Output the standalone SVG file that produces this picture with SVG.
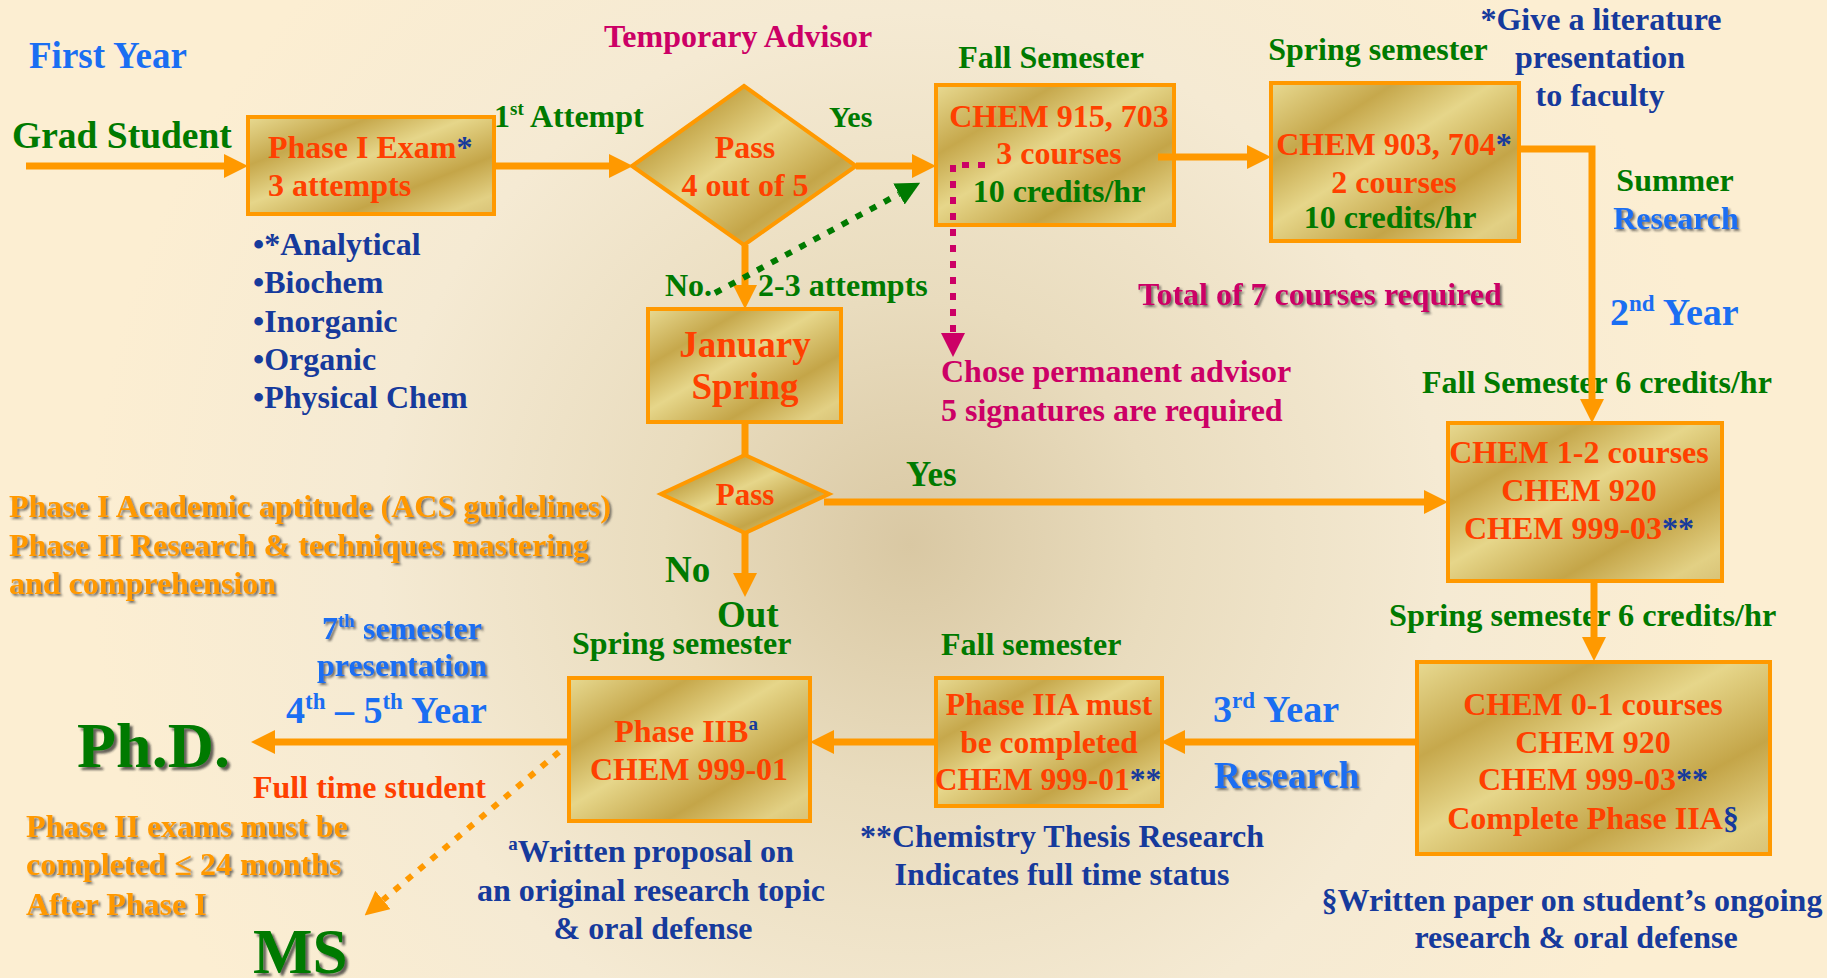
<svg xmlns="http://www.w3.org/2000/svg" width="1827" height="978" viewBox="0 0 1827 978">
<defs>
<radialGradient id="bg" gradientUnits="userSpaceOnUse" cx="910" cy="545" r="820">
<stop offset="0" stop-color="#D9C8A3"/>
<stop offset="0.3" stop-color="#E9DCBE"/>
<stop offset="0.65" stop-color="#F5EAD3"/>
<stop offset="1" stop-color="#FCEED2"/>
</radialGradient>
<linearGradient id="gold" x1="0" y1="0" x2="1" y2="1">
<stop offset="0" stop-color="#E8DA92"/>
<stop offset="0.25" stop-color="#C6A84C"/>
<stop offset="0.45" stop-color="#E6D68A"/>
<stop offset="0.7" stop-color="#C4A548"/>
<stop offset="0.9" stop-color="#E2D084"/>
<stop offset="1" stop-color="#D8C276"/>
</linearGradient>
<filter id="sh" x="-10%" y="-30%" width="120%" height="160%">
<feDropShadow dx="2" dy="2" stdDeviation="0.8" flood-color="#333" flood-opacity="0.65"/>
</filter>
<filter id="shb" x="-10%" y="-30%" width="120%" height="160%">
<feDropShadow dx="3" dy="3" stdDeviation="1" flood-color="#222" flood-opacity="0.7"/>
</filter>
<marker id="ah" markerUnits="userSpaceOnUse" markerWidth="24" markerHeight="24" refX="0" refY="12" orient="auto">
<path d="M0,0 L24,12 L0,24 z" fill="#FF9900"/>
</marker>
<marker id="ahg" markerUnits="userSpaceOnUse" markerWidth="24" markerHeight="24" refX="0" refY="12" orient="auto">
<path d="M0,0 L24,12 L0,24 z" fill="#007A00"/>
</marker>
<marker id="ahm" markerUnits="userSpaceOnUse" markerWidth="24" markerHeight="24" refX="0" refY="12" orient="auto">
<path d="M0,0 L24,12 L0,24 z" fill="#CC0066"/>
</marker>
</defs>
<style>
text { font-family: 'Liberation Serif', 'Times New Roman', serif; font-weight: bold; font-size: 32px; }
.red { fill: #FF4000; }
.grn { fill: #007A00; }
.nav { fill: #163A9C; }
.blu { fill: #1A6EF2; }
.mag { fill: #CC0066; }
.org { fill: #FF9900; }
.mid { text-anchor: middle; }
.box { fill: url(#gold); stroke: #FF9900; stroke-width: 4; }
.conn { stroke: #FF9900; stroke-width: 7; fill: none; }
.big { font-size: 38px; }
</style>
<rect x="0" y="0" width="1827" height="978" fill="url(#bg)"/>

<!-- free labels -->
<g id="labels">
<text x="29" y="68" class="blu" style="font-size:37px">First Year</text>
<text x="12" y="148" class="grn" style="font-size:37.5px">Grad Student</text>
<text x="494" y="127" class="grn" style="font-size:32px">1<tspan font-size="19" dy="-12">st</tspan><tspan dy="12"> Attempt</tspan></text>
<text x="738" y="47" class="mag mid">Temporary Advisor</text>
<text x="829" y="127" class="grn" style="font-size:30px">Yes</text>
<text x="1051" y="68" class="grn mid">Fall Semester</text>
<text x="1378" y="60" class="grn mid">Spring semester</text>
<text x="1601" y="30" class="nav mid">*Give a literature</text>
<text x="1600" y="68" class="nav mid">presentation</text>
<text x="1600" y="106" class="nav mid">to faculty</text>
<text x="1675" y="191" class="grn mid">Summer</text>
<text x="1676" y="229" class="blu mid" filter="url(#sh)">Research</text>
<text x="1610" y="325" class="blu big">2<tspan font-size="23" dy="-14">nd</tspan><tspan dy="14"> Year</tspan></text>
<text x="1138" y="305" class="mag" filter="url(#sh)">Total of 7 courses required</text>
<text x="665" y="296" class="grn">No.</text>
<text x="758" y="296" class="grn">2-3 attempts</text>
<text x="941" y="382" class="mag">Chose permanent advisor</text>
<text x="941" y="421" class="mag">5 signatures are required</text>
<text x="253" y="255" class="nav">•*Analytical</text>
<text x="253" y="293" class="nav">•Biochem</text>
<text x="253" y="332" class="nav">•Inorganic</text>
<text x="253" y="370" class="nav">•Organic</text>
<text x="253" y="408" class="nav">•Physical Chem</text>
<g class="org" filter="url(#sh)">
<text x="9" y="517" class="org">Phase I Academic aptitude (ACS guidelines)</text>
<text x="9" y="556" class="org">Phase II Research &amp; techniques mastering</text>
<text x="9" y="594" class="org">and comprehension</text>
</g>
<text x="906" y="486" class="grn" style="font-size:35px">Yes</text>
<text x="665" y="582" class="grn" style="font-size:37px">No</text>
<text x="1422" y="393" class="grn" style="font-size:32px">Fall Semester 6 credits/hr</text>
<text x="1389" y="626" class="grn" style="font-size:32.3px">Spring semester 6 credits/hr</text>
<text x="572" y="654" class="grn">Spring semester</text>
<text x="941" y="655" class="grn">Fall semester</text>
<text x="1213" y="722" class="blu big">3<tspan font-size="23" dy="-14">rd</tspan><tspan dy="14"> Year</tspan></text>
<text x="1214" y="788" class="blu" style="font-size:37px" filter="url(#sh)">Research</text>
<g filter="url(#sh)">
<text x="402" y="639" class="blu mid">7<tspan font-size="19" dy="-12">th</tspan><tspan dy="12"> semester</tspan></text>
<text x="402" y="676" class="blu mid">presentation</text>
</g>
<text x="286" y="723" class="blu big">4<tspan font-size="23" dy="-14">th</tspan><tspan dy="14"> – 5</tspan><tspan font-size="23" dy="-14">th</tspan><tspan dy="14"> Year</tspan></text>
<text x="253" y="798" class="red">Full time student</text>
<g filter="url(#sh)">
<text x="26" y="837" class="org">Phase II exams must be</text>
<text x="26" y="875" class="org">completed ≤ 24 months</text>
<text x="26" y="915" class="org">After Phase I</text>
</g>
<text x="651" y="862" class="nav mid"><tspan font-size="19" dy="-12">a</tspan><tspan dy="12">Written proposal on</tspan></text>
<text x="651" y="901" class="nav mid">an original research topic</text>
<text x="653" y="939" class="nav mid">&amp; oral defense</text>
<text x="1062" y="847" class="nav mid">**Chemistry Thesis Research</text>
<text x="1062" y="885" class="nav mid">Indicates full time status</text>
<text x="1572" y="911" class="nav mid">§Written paper on student’s ongoing</text>
<text x="1576" y="948" class="nav mid">research &amp; oral defense</text>
</g>

<!-- nodes -->
<g id="phase1">
<rect class="box" x="248" y="117" width="246" height="97"/>
<text x="268" y="158" class="red">Phase I Exam<tspan class="nav">*</tspan></text>
<text x="268" y="196" class="red">3 attempts</text>
</g>
<g id="pass1">
<polygon class="box" points="744,86 856,166 744,245 632,166"/>
<text x="745" y="158" class="red mid">Pass</text>
<text x="745" y="196" class="red mid">4 out of 5</text>
</g>
<g id="fall1">
<rect class="box" x="936" y="85" width="238" height="140"/>
<text x="1059" y="127" class="red mid">CHEM 915, 703</text>
<text x="1059" y="164" class="red mid">3 courses</text>
<text x="1059" y="202" class="grn mid">10 credits/hr</text>
</g>
<g id="january">
<rect class="box" x="648" y="309" width="193" height="113"/>
<text x="745" y="357" class="red mid" style="font-size:37px">January</text>
<text x="745" y="399" class="red mid" style="font-size:37px">Spring</text>
</g>
<g id="spring1">
<rect class="box" x="1271" y="83" width="248" height="158"/>
<text x="1394" y="155" class="red mid">CHEM 903, 704<tspan class="nav">*</tspan></text>
<text x="1394" y="193" class="red mid">2 courses</text>
<text x="1390" y="228" class="grn mid">10 credits/hr</text>
</g>
<g id="pass2">
<polygon class="box" points="745,455 829,494 745,533 661,494"/>
<text x="745" y="505" class="red mid" style="font-size:31px">Pass</text>
</g>
<g id="out">
<text x="717" y="627" class="grn" style="font-size:37px">Out</text>
</g>
<g id="chem12">
<rect class="box" x="1448" y="423" width="274" height="158"/>
<text x="1579" y="463" class="red mid">CHEM 1-2 courses</text>
<text x="1579" y="501" class="red mid">CHEM 920</text>
<text x="1579" y="539" class="red mid">CHEM 999-03<tspan class="nav">**</tspan></text>
</g>
<g id="chem01">
<rect class="box" x="1417" y="662" width="353" height="192"/>
<text x="1593" y="715" class="red mid">CHEM 0-1 courses</text>
<text x="1593" y="753" class="red mid">CHEM 920</text>
<text x="1593" y="790" class="red mid">CHEM 999-03<tspan class="nav">**</tspan></text>
<text x="1593" y="829" class="red mid">Complete Phase IIA<tspan class="nav">§</tspan></text>
</g>
<g id="phase2a">
<rect class="box" x="936" y="678" width="226" height="128"/>
<text x="1049" y="715" class="red mid" style="font-size:31.5px">Phase IIA must</text>
<text x="1049" y="753" class="red mid" style="font-size:31.5px">be completed</text>
<text x="1048" y="790" class="red mid" style="font-size:31.5px">CHEM 999-01<tspan class="nav">**</tspan></text>
</g>
<g id="phase2b">
<rect class="box" x="569" y="678" width="241" height="143"/>
<text x="686" y="742" class="red mid">Phase IIB<tspan class="nav" font-size="19" dy="-12">a</tspan></text>
<text x="689" y="780" class="red mid">CHEM 999-01</text>
</g>
<g id="phd">
<text x="77" y="767" class="grn" style="font-size:64px" filter="url(#shb)">Ph.D.</text>
</g>
<g id="ms">
<text x="253" y="973" class="grn" style="font-size:63px" filter="url(#shb)">MS</text>
</g>

<!-- connectors -->
<g id="connectors">
<path class="conn" d="M26,166 L224,166" marker-end="url(#ah)"/>
<path class="conn" d="M494,166 L609,166" marker-end="url(#ah)"/>
<path class="conn" d="M856,166 L912,166" marker-end="url(#ah)"/>
<path class="conn" d="M1158,157 L1247,157" marker-end="url(#ah)"/>
<path class="conn" d="M1519,149 L1592,149 L1592,399" marker-end="url(#ah)"/>
<path class="conn" d="M745,245 L745,285" marker-end="url(#ah)"/>
<path class="conn" d="M745,422 L745,456"/>
<path class="conn" d="M745,533 L745,573" marker-end="url(#ah)"/>
<path class="conn" d="M824,502 L1424,502" marker-end="url(#ah)"/>
<path class="conn" d="M1594,581 L1594,637" marker-end="url(#ah)"/>
<path class="conn" d="M1417,742 L1185,742" marker-end="url(#ah)"/>
<path class="conn" d="M936,742 L834,742" marker-end="url(#ah)"/>
<path class="conn" d="M569,742 L275,742" marker-end="url(#ah)"/>
<path d="M715,293 L899,194" stroke="#007A00" stroke-width="6" stroke-dasharray="7 9" fill="none" marker-end="url(#ahg)"/>
<path d="M985,165 L953,165 L953,333" stroke="#CC0066" stroke-width="6" stroke-dasharray="7 9" fill="none" marker-end="url(#ahm)"/>
<path d="M559,752 L383,900" stroke="#FF9900" stroke-width="6" stroke-dasharray="7 9" fill="none" marker-end="url(#ah)"/>
</g>
</svg>
